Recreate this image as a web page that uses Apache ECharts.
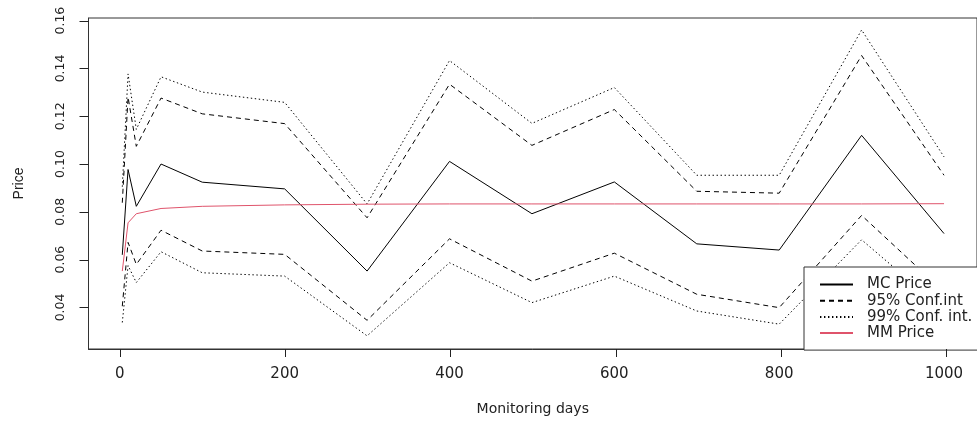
<!DOCTYPE html>
<html>
<head>
<meta charset="utf-8">
<script src="https://cdn.jsdelivr.net/npm/echarts@6/dist/echarts.min.js"></script>
<style>
html,body{margin:0;padding:0;background:#fff;}
#chart{width:977px;height:423px;}
</style>
</head>
<body>
<div id="chart"></div>
<script>
// ---- data ----
var days = [3, 10, 20, 50, 100, 200, 300, 400, 500, 600, 700, 800, 900, 1000];
var mcPrice = [0.0620, 0.0977, 0.0823, 0.1000, 0.0924, 0.0896, 0.0552, 0.1011, 0.0792, 0.0925, 0.0666, 0.0640, 0.1120, 0.0709];
var ci95Upper = [0.0838, 0.1280, 0.1074, 0.1276, 0.1210, 0.1169, 0.0775, 0.1334, 0.1078, 0.1228, 0.0886, 0.0878, 0.1454, 0.0953];
var ci95Lower = [0.0405, 0.0672, 0.0580, 0.0723, 0.0636, 0.0622, 0.0346, 0.0687, 0.0510, 0.0627, 0.0455, 0.0399, 0.0785, 0.0465];
var ci99Upper = [0.0905, 0.1377, 0.1145, 0.1365, 0.1301, 0.1258, 0.0833, 0.1433, 0.1170, 0.1320, 0.0953, 0.0953, 0.1561, 0.1030];
var ci99Lower = [0.0337, 0.0575, 0.0504, 0.0633, 0.0545, 0.0531, 0.0281, 0.0587, 0.0420, 0.0531, 0.0385, 0.0330, 0.0683, 0.0388];
var mmPrice = [0.0552, 0.0754, 0.0792, 0.0814, 0.0823, 0.0829, 0.0832, 0.0833, 0.0833, 0.0833, 0.0833, 0.0833, 0.0833, 0.0834];
var xTicks = [0, 200, 400, 600, 800, 1000];
var yTicks = [0.04, 0.06, 0.08, 0.10, 0.12, 0.14, 0.16];
var seriesNames = ['MC Price', '95% Conf.int', '99% Conf. int.', 'MM Price'];

var X_MIN = -38, X_MAX = 1040, Y_MIN = 0.0226, Y_MAX = 0.1611;
var GRID = { left: 88.5, right: -2, top: 18, bottom: 74 };
var W = 977, H = 423;

function pairs(xs, ys) { return xs.map(function (x, i) { return [x, ys[i]]; }); }

var solid = 'solid', dashed = [5, 4], dotted = [1.4, 2.6];
function lineSeries(name, ys, color, type) {
  return {
    type: 'line', name: name, data: pairs(days, ys),
    symbol: 'none', showSymbol: false, silent: true,
    lineStyle: { color: color, width: 1, type: type },
    itemStyle: { color: color }
  };
}

// R-style outward tick marks, positioned with the same linear scale as the axes
var gx0 = GRID.left, gx1 = W - GRID.right, gy0 = GRID.top, gy1 = H - GRID.bottom;
function sx(v) { return gx0 + (v - X_MIN) / (X_MAX - X_MIN) * (gx1 - gx0); }
function sy(v) { return gy1 - (v - Y_MIN) / (Y_MAX - Y_MIN) * (gy1 - gy0); }
var tickEls = [];
xTicks.forEach(function (v) {
  var px = Math.round(sx(v)) + 0.5;
  tickEls.push({ type: 'line', silent: true, z: 100,
    shape: { x1: px, y1: gy1, x2: px, y2: gy1 + 8 },
    style: { stroke: '#222', lineWidth: 1 } });
});
yTicks.forEach(function (v) {
  var py = Math.round(sy(v)) + 0.5;
  tickEls.push({ type: 'line', silent: true, z: 100,
    shape: { x1: gx0 - 9, y1: py, x2: gx0, y2: py },
    style: { stroke: '#222', lineWidth: 1 } });
});

var chart = echarts.init(document.getElementById('chart'));
chart.setOption({
  animation: false,
  grid: { left: GRID.left, right: GRID.right, top: GRID.top, bottom: GRID.bottom, show: true, borderColor: '#333', borderWidth: 1 },
  xAxis: {
    type: 'value', min: X_MIN, max: X_MAX,
    name: 'Monitoring days', nameLocation: 'middle', nameGap: 53,
    nameTextStyle: { fontFamily: 'DejaVu Sans', fontSize: 14, color: '#222' },
    axisLine: { show: true, onZero: false, lineStyle: { color: '#333', width: 1 } },
    splitLine: { show: false },
    axisTick: { show: false },
    axisLabel: { customValues: xTicks, margin: 18, fontFamily: 'DejaVu Sans', fontSize: 15, color: '#222',
      formatter: function (v) { return String(v); } }
  },
  yAxis: {
    type: 'value', min: Y_MIN, max: Y_MAX,
    name: 'Price', nameLocation: 'middle', nameGap: 62, nameRotate: 90,
    nameTextStyle: { fontFamily: 'Liberation Sans', fontSize: 14, color: '#222' },
    axisLine: { show: true, onZero: false, lineStyle: { color: '#333', width: 1 } },
    splitLine: { show: false },
    axisTick: { show: false },
    axisLabel: { customValues: yTicks, rotate: 90, margin: 21, fontFamily: 'DejaVu Sans', fontSize: 12.5, color: '#222',
      formatter: function (v) { return v.toFixed(2); } }
  },
  legend: {
    orient: 'vertical', left: 804, top: 267,
    data: seriesNames,
    itemWidth: 33, itemHeight: 14, itemGap: 1.2,
    padding: [10, 80, 9.5, 15],
    borderColor: '#333', borderWidth: 1, backgroundColor: '#fff',
    selectedMode: false,
    itemStyle: { opacity: 0 },
    textStyle: { fontFamily: 'DejaVu Sans', fontSize: 15, lineHeight: 14, color: '#222', padding: [0, 0, 0, 9] }
  },
  graphic: tickEls,
  series: [
    lineSeries(seriesNames[0], mcPrice, '#000', solid),
    lineSeries(seriesNames[1], ci95Upper, '#000', dashed),
    lineSeries(seriesNames[1], ci95Lower, '#000', dashed),
    lineSeries(seriesNames[2], ci99Upper, '#000', dotted),
    lineSeries(seriesNames[2], ci99Lower, '#000', dotted),
    lineSeries(seriesNames[3], mmPrice, '#DF536B', solid)
  ]
});
</script>
</body>
</html>
